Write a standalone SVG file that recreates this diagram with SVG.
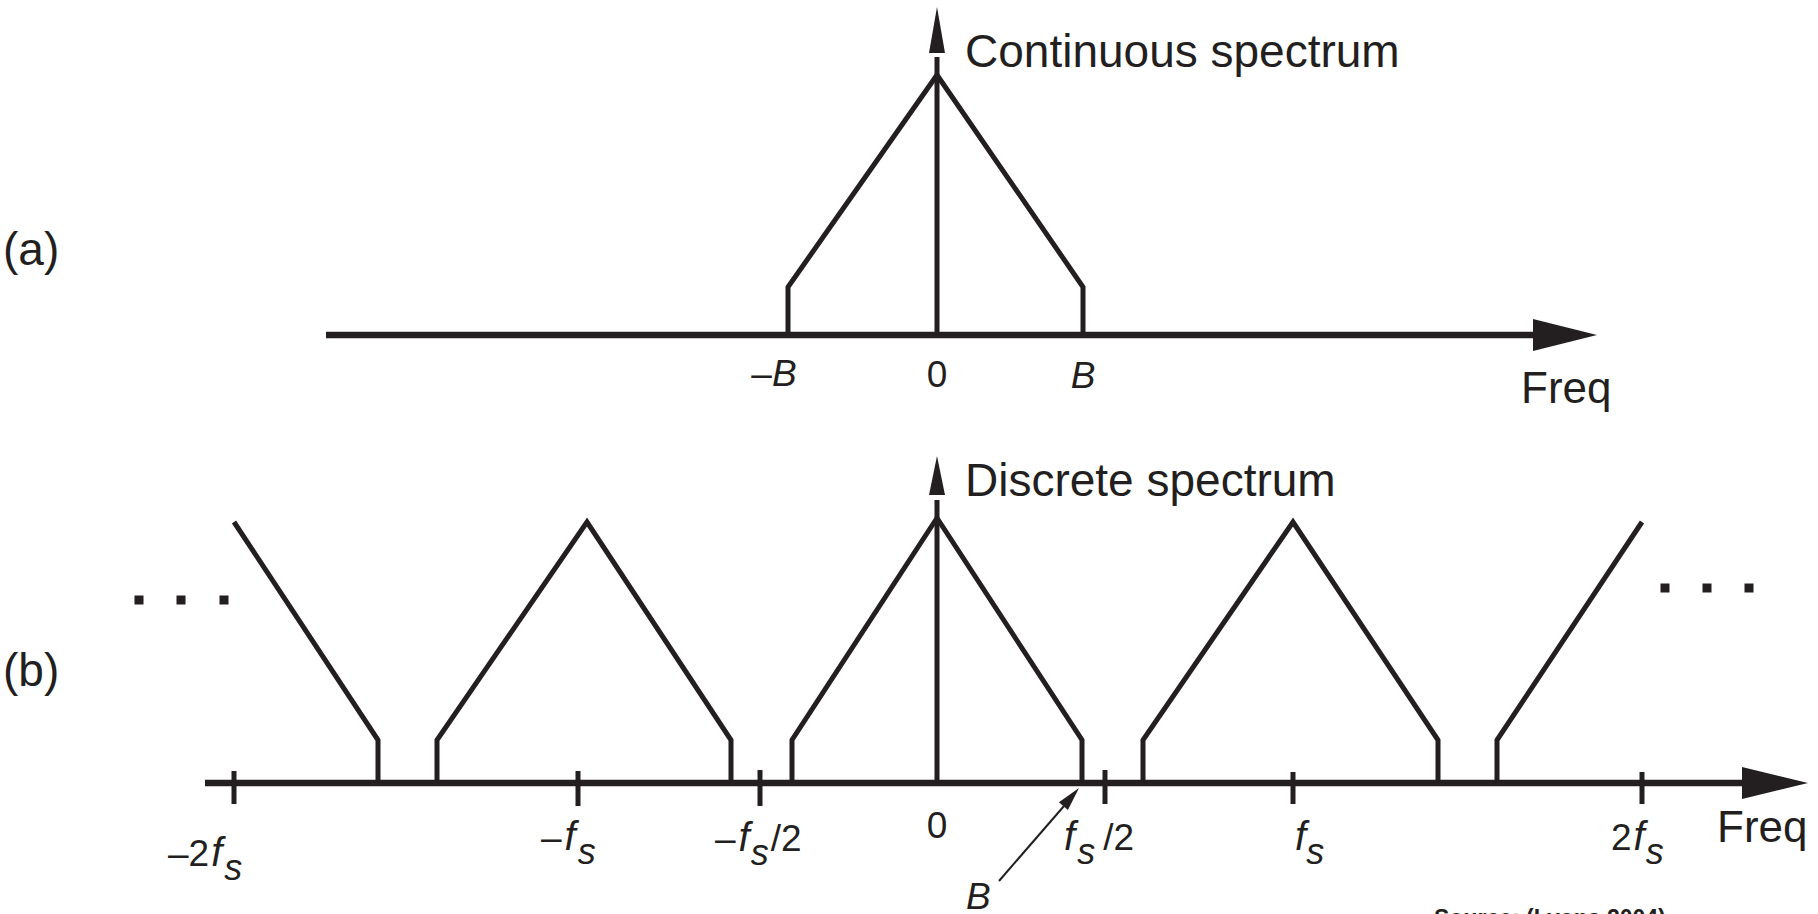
<svg xmlns="http://www.w3.org/2000/svg" width="1818" height="914" viewBox="0 0 1818 914">
<style>
  .ln{fill:none;stroke:#231f20;stroke-width:5;stroke-linejoin:miter;stroke-miterlimit:10}
  .ax{stroke:#231f20;stroke-width:6.5}
  .vt{stroke:#231f20;stroke-width:5}
  .tk{stroke:#231f20;stroke-width:5}
  .ah{fill:#231f20}
  .thin{stroke:#231f20;stroke-width:2}
  .t{font-family:"Liberation Sans",Arial,Helvetica,sans-serif;fill:#231f20}
  .lg{font-size:46px}
  .fq{font-size:44px}
  .m{font-size:37px}
  .i{font-style:italic}
  .f{font-style:italic;font-size:40px}
  .sub{font-size:36px;font-style:italic}
  .src{font-size:23px;font-weight:bold}
  .dot{fill:#231f20}
</style>
<rect width="1818" height="914" fill="#ffffff"/>

<!-- Panel (a) -->
<g id="panel-a">
  <text class="t lg" x="3" y="265">(a)</text>
  <g id="a-spectrum">
    <polyline class="ln" points="788,335 788,287 937,75 1083,287 1083,335"/>
  </g>
  <g id="a-title">
    <text class="t lg" x="965" y="67">Continuous spectrum</text>
  </g>
  <g id="a-labels">
    <text class="t m" x="774" y="386" text-anchor="middle">–<tspan class="i">B</tspan></text>
    <text class="t m" x="937" y="387" text-anchor="middle">0</text>
    <text class="t m i" x="1083" y="388" text-anchor="middle">B</text>
    <text class="t fq" x="1521" y="403">Freq</text>
  </g>
</g>

<!-- Panel (b) -->
<g id="panel-b">
  <text class="t lg" x="3" y="686">(b)</text>
  <g id="b-title">
    <text class="t lg" x="965" y="496">Discrete spectrum</text>
  </g>
  <g id="b-spectra">
    <polyline class="ln" points="234,522 378,740 378,783"/>
    <polyline class="ln" points="437,783 437,740 587,522 731,740 731,783"/>
    <polyline class="ln" points="792,783 792,740 937,518 1082,740 1082,783"/>
    <polyline class="ln" points="1143,783 1143,740 1293,522 1438,740 1438,783"/>
    <polyline class="ln" points="1497,783 1497,740 1642,522"/>
  </g>
  <g id="b-dots">
    <rect class="dot" x="134.5" y="595.5" width="9" height="9"/>
    <rect class="dot" x="176.5" y="595.5" width="9" height="9"/>
    <rect class="dot" x="219.5" y="595.5" width="9" height="9"/>
    <rect class="dot" x="1660.5" y="583.5" width="9" height="9"/>
    <rect class="dot" x="1702.5" y="583.5" width="9" height="9"/>
    <rect class="dot" x="1744.5" y="583.5" width="9" height="9"/>
  </g>
  <g id="b-ticks">
    <line class="tk" x1="234" y1="771" x2="234" y2="804"/>
    <line class="tk" x1="578" y1="771" x2="578" y2="806"/>
    <line class="tk" x1="760" y1="770" x2="760" y2="806"/>
    <line class="tk" x1="1105" y1="770" x2="1105" y2="804"/>
    <line class="tk" x1="1293" y1="772" x2="1293" y2="804"/>
    <line class="tk" x1="1642" y1="772" x2="1642" y2="804"/>
  </g>
  <g id="b-labels">
    <text class="t m" x="168" y="866">–2<tspan class="f" dx="2">f</tspan><tspan class="sub" dx="2" dy="14">s</tspan></text>
    <text class="t m" x="541" y="850">–<tspan class="f" dx="3">f</tspan><tspan class="sub" dx="2" dy="14">s</tspan></text>
    <text class="t m" x="715" y="851">–<tspan class="f" dx="3">f</tspan><tspan class="sub" dx="1" dy="14">s</tspan><tspan dy="-14" dx="2">/2</tspan></text>
    <text class="t m" x="937" y="838" text-anchor="middle">0</text>
    <text class="t m" x="1064" y="850"><tspan class="f">f</tspan><tspan class="sub" dx="2" dy="14">s</tspan><tspan dy="-14" dx="8">/2</tspan></text>
    <text class="t m" x="1295" y="850"><tspan class="f">f</tspan><tspan class="sub" dy="14">s</tspan></text>
    <text class="t m" x="1611" y="850">2<tspan class="f" dx="2">f</tspan><tspan class="sub" dx="1" dy="14">s</tspan></text>
    <text class="t fq" x="1717" y="842">Freq</text>
    <text class="t m i" x="966" y="909">B</text>
  </g>
</g>

<!-- Connectors: axes and arrows -->
<g id="connectors">
  <line class="ax" x1="326" y1="335" x2="1536" y2="335"/>
  <polygon class="ah" points="1533,319 1597,335 1533,351"/>
  <line class="vt" x1="937" y1="57" x2="937" y2="335"/>
  <polygon class="ah" points="929,53 937,7 945,53"/>

  <line class="ax" x1="205" y1="783" x2="1745" y2="783"/>
  <polygon class="ah" points="1742,767 1808,783 1742,799"/>
  <line class="vt" x1="937" y1="500" x2="937" y2="783"/>
  <polygon class="ah" points="929,495 937,456 945,495"/>

  <line class="thin" x1="999" y1="881" x2="1064" y2="806"/>
  <polygon class="ah" points="1079,788 1067.9,810.1 1058.9,802.3"/>
</g>

<g id="source">
  <text class="t src" x="1434" y="926">Source: (Lyons 2004)</text>
</g>
</svg>
